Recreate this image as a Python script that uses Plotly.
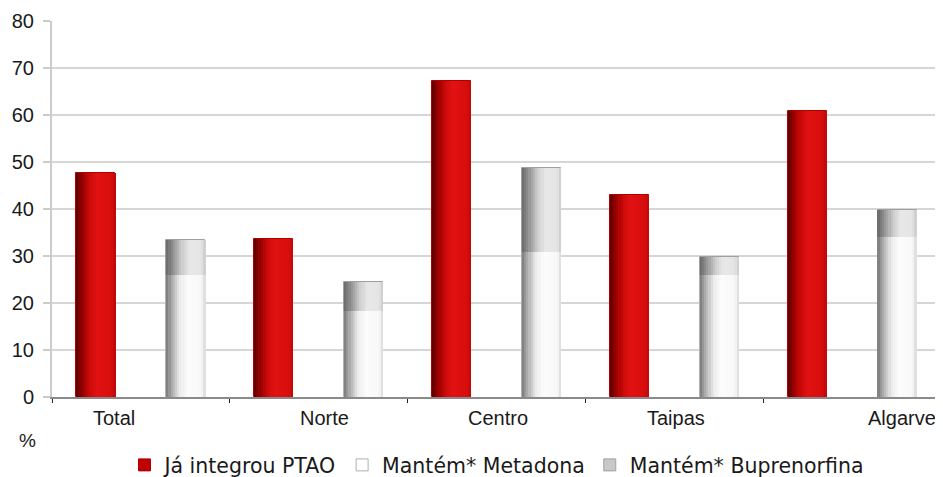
import plotly.graph_objects as go

categories = ["Total", "Norte", "Centro", "Taipas", "Algarve"]
ja_integrou = [47.7, 33.6, 67.2, 43.0, 60.9]
metadona = [25.9, 18.3, 30.9, 26.0, 34.1]
buprenorfina = [7.5, 6.2, 17.8, 3.8, 5.7]
y_ticks = [0, 10, 20, 30, 40, 50, 60, 70, 80]

# ---- layout / style settings ----
label_shift = [-0.15, 0.03, 0.01, 0.01, 0.28]
bar_offset = 0.253
bar_width = 0.22
n_strips = 18
idx = list(range(len(categories)))
x_red = [i - bar_offset for i in idx]
x_stack = [i + bar_offset for i in idx]
base_bup = metadona  # buprenorfina stacked on top of metadona

red_stops = [(0.0, (90, 0, 0)), (0.15, (150, 0, 0)), (0.35, (205, 10, 10)),
             (0.55, (226, 18, 18)), (0.9, (215, 12, 12)), (1.0, (190, 8, 8))]
white_stops = [(0.0, (120, 120, 120)), (0.15, (175, 175, 175)), (0.35, (235, 235, 235)),
               (0.55, (252, 252, 252)), (0.9, (248, 248, 248)), (1.0, (215, 215, 215))]
grey_stops = [(0.0, (105, 105, 105)), (0.15, (140, 140, 140)), (0.4, (205, 205, 205)),
              (0.6, (232, 232, 232)), (0.9, (228, 228, 228)), (1.0, (200, 200, 200))]


def grad(stops, t):
    for (t0, c0), (t1, c1) in zip(stops[:-1], stops[1:]):
        if t0 <= t <= t1:
            f = (t - t0) / (t1 - t0) if t1 > t0 else 0
            c = [round(a + (b - a) * f) for a, b in zip(c0, c1)]
            return "rgb(%d,%d,%d)" % tuple(c)
    return "rgb(%d,%d,%d)" % stops[-1][1]


fig = go.Figure()
# base (legend) traces with outlines
fig.add_trace(go.Bar(x=x_red, y=ja_integrou, width=bar_width, name="Já integrou PTAO",
                     marker=dict(color="#C00000", line=dict(color="#b00000", width=1))))
fig.add_trace(go.Bar(x=x_stack, y=metadona, width=bar_width, name="Mantém* Metadona",
                     marker=dict(color="#FFFFFF", line=dict(color="#B0B0B0", width=1))))
fig.add_trace(go.Bar(x=x_stack, y=buprenorfina, base=base_bup, width=bar_width,
                     name="Mantém* Buprenorfina",
                     marker=dict(color="#C8C8C8", line=dict(color="#A0A0A0", width=1))))

sw = bar_width / n_strips
for k in range(n_strips):
    t = (k + 0.5) / n_strips
    dx = -bar_width / 2 + (k + 0.5) * sw
    fig.add_trace(go.Bar(x=[v + dx for v in x_red], y=ja_integrou, width=sw * 1.05,
                         marker=dict(color=grad(red_stops, t), line=dict(width=0)),
                         showlegend=False, hoverinfo="skip"))
    fig.add_trace(go.Bar(x=[v + dx for v in x_stack], y=metadona, width=sw * 1.05,
                         marker=dict(color=grad(white_stops, t), line=dict(width=0)),
                         showlegend=False, hoverinfo="skip"))
    fig.add_trace(go.Bar(x=[v + dx for v in x_stack], y=buprenorfina, base=base_bup,
                         width=sw * 1.05,
                         marker=dict(color=grad(grey_stops, t), line=dict(width=0)),
                         showlegend=False, hoverinfo="skip"))

annotations = []
for i, c in enumerate(categories):
    annotations.append(dict(x=i + label_shift[i], y=-0.02, xref="x", yref="paper",
                            text=c, showarrow=False, yanchor="top", xanchor="center",
                            font=dict(family="Liberation Sans, Arial", size=20, color="#1a1a1a")))
annotations.append(dict(x=-0.028, y=-0.117, xref="paper", yref="paper", text="%",
                        showarrow=False, xanchor="center", yanchor="middle",
                        font=dict(family="Liberation Sans, Arial", size=19, color="#1a1a1a")))

fig.update_layout(
    width=935, height=469,
    margin=dict(l=44, r=2, t=13, b=80, autoexpand=False),
    barmode="overlay",
    plot_bgcolor="white", paper_bgcolor="white",
    showlegend=True,
    legend=dict(orientation="h", x=0.5, xanchor="center", y=-0.181, yanchor="middle",
                font=dict(family="DejaVu Sans", size=20.5, color="#1a1a1a"),
                itemwidth=30, traceorder="normal"),
    xaxis=dict(range=[-0.5, 4.5], tickvals=[i - 0.5 for i in range(len(categories) + 1)],
               ticktext=[""] * (len(categories) + 1), ticks="outside", ticklen=4,
               tickcolor="#222", showgrid=False, zeroline=False, showline=True,
               linecolor="#8a8a8a", linewidth=2, automargin=False),
    yaxis=dict(range=[0, 80], tickvals=y_ticks, ticks="outside", ticklen=7,
               tickcolor="#cccccc", tickwidth=2, gridcolor="#d6d6d6", gridwidth=2,
               zeroline=False, showline=True, linecolor="#cccccc", linewidth=2,
               automargin=False, ticklabelstandoff=5,
               tickfont=dict(family="Liberation Sans, Arial", size=20, color="#1a1a1a")),
    annotations=annotations,
    bargap=0,
)
fig.write_html("out.html")
